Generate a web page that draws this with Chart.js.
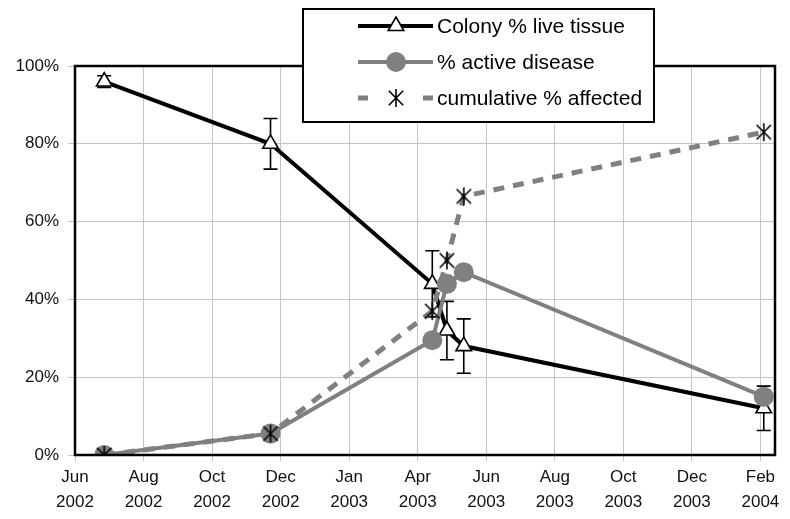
<!DOCTYPE html>
<html><head><meta charset="utf-8">
<script src="https://cdn.jsdelivr.net/npm/chart.js@4"></script>
<style>html,body{margin:0;padding:0;background:#fff}</style>
</head><body>
<canvas id="c" width="790" height="519"></canvas>
<script>
// ---- data ----
const axisStart = "2002-06-01";
const sampleDates = ["2002-06-27", "2002-11-22", "2003-04-15", "2003-04-28", "2003-05-13", "2004-02-04"];
const liveTissue = [96, 80, 44, 32, 28, 12];
const liveTissueErr = [1.5, 6.5, 8.5, 7.5, 7, 5.7];
const activeDisease = [0, 5.5, 29.5, 44, 47, 15];
const cumulativeAffected = [0, 5.5, 37, 50, 66.5, 83];
const seriesNames = ["Colony % live tissue", "% active disease", "cumulative % affected"];
const tickDays = [0, 61, 122, 183, 244, 305, 366, 427, 488, 549, 610];
const tickLabels = [["Jun","2002"],["Aug","2002"],["Oct","2002"],["Dec","2002"],["Jan","2003"],["Apr","2003"],["Jun","2003"],["Aug","2003"],["Oct","2003"],["Dec","2003"],["Feb","2004"]];
const xMaxDay = 623;
const yTicks = [0, 20, 40, 60, 80, 100];

// ---- helpers ----
const dayOf = d => Math.round((Date.parse(d) - Date.parse(axisStart)) / 86400000);
const xs = sampleDates.map(dayOf);
const pts = vals => vals.map((v, i) => ({x: xs[i], y: v}));

const GRAY = '#808080';
const FONT = '"Liberation Sans", Arial, sans-serif';

// asterisk marker (X plus vertical bar)
function makeStar(size) {
  const c = document.createElement('canvas');
  c.width = size; c.height = size;
  const g = c.getContext('2d');
  const m = size / 2, r = size / 2 - 1;
  g.strokeStyle = '#000'; g.lineWidth = 1.6; g.lineCap = 'butt';
  g.beginPath();
  g.moveTo(m, m - r); g.lineTo(m, m + r);
  const d = r * 0.8;
  g.moveTo(m - d, m - d); g.lineTo(m + d, m + d);
  g.moveTo(m + d, m - d); g.lineTo(m - d, m + d);
  g.stroke();
  return c;
}
const starImg = makeStar(20);

const errorBars = {
  id: 'errorBars',
  beforeDatasetsDraw(chart) {
    const ctx = chart.ctx, xS = chart.scales.x, yS = chart.scales.y;
    ctx.save();
    ctx.strokeStyle = '#000'; ctx.lineWidth = 1.6;
    liveTissue.forEach((v, i) => {
      const e = liveTissueErr[i];
      const px = xS.getPixelForValue(xs[i]);
      const top = yS.getPixelForValue(Math.min(100, v + e));
      const bot = yS.getPixelForValue(Math.max(0, v - e));
      ctx.beginPath();
      ctx.moveTo(px, top); ctx.lineTo(px, bot);
      ctx.moveTo(px - 7, top); ctx.lineTo(px + 7, top);
      ctx.moveTo(px - 7, bot); ctx.lineTo(px + 7, bot);
      ctx.stroke();
    });
    ctx.restore();
  }
};

const frameAndLegend = {
  id: 'frameAndLegend',
  afterDraw(chart) {
    const ctx = chart.ctx, a = chart.chartArea;
    ctx.save();
    ctx.strokeStyle = '#000'; ctx.lineWidth = 2.5;
    ctx.strokeRect(a.left, a.top, a.right - a.left, a.bottom - a.top);
    // legend box
    const bx = 303, by = 9, bw = 351, bh = 113;
    ctx.fillStyle = '#fff';
    ctx.fillRect(bx, by, bw, bh);
    ctx.lineWidth = 2;
    ctx.strokeRect(bx, by, bw, bh);
    const rows = [26, 62, 98];
    const x0 = 358, x1 = 433, mx = 396, tx = 437;
    chart.data.datasets.forEach((ds, i) => {
      const y = rows[i];
      ctx.save();
      ctx.strokeStyle = ds.borderColor; ctx.lineWidth = ds.borderWidth;
      ctx.beginPath();
      if (ds.borderDash) {
        ctx.moveTo(x0, y); ctx.lineTo(x0 + 10, y);
        ctx.moveTo(x1 - 10, y); ctx.lineTo(x1, y);
      } else {
        ctx.moveTo(x0, y); ctx.lineTo(x1, y);
      }
      ctx.stroke();
      ctx.fillStyle = ds.pointBackgroundColor;
      ctx.strokeStyle = ds.pointBorderColor;
      ctx.lineWidth = ds.pointBorderWidth;
      Chart.helpers.drawPoint(ctx, {
        pointStyle: ds.pointStyle, radius: ds.pointRadius, rotation: 0,
        borderWidth: ds.pointBorderWidth
      }, mx, y);
      ctx.restore();
      ctx.fillStyle = '#000';
      ctx.font = '21px ' + FONT;
      ctx.textBaseline = 'middle';
      ctx.textAlign = 'left';
      ctx.fillText(ds.label, tx, y + 1);
    });
    ctx.restore();
  }
};

const chart = new Chart(document.getElementById('c'), {
  type: 'line',
  data: {
    datasets: [
      {
        label: seriesNames[0], data: pts(liveTissue), order: 3,
        borderColor: '#000', borderWidth: 4,
        pointStyle: 'triangle', pointRadius: 9, pointBorderWidth: 1.6,
        pointBackgroundColor: '#fff', pointBorderColor: '#000'
      },
      {
        label: seriesNames[1], data: pts(activeDisease), order: 2,
        borderColor: GRAY, borderWidth: 4,
        pointStyle: 'circle', pointRadius: 10, pointBorderWidth: 0,
        pointBackgroundColor: GRAY, pointBorderColor: GRAY
      },
      {
        label: seriesNames[2], data: pts(cumulativeAffected), order: 1,
        borderColor: GRAY, borderWidth: 5, borderDash: [11, 9],
        pointStyle: starImg, pointRadius: 10, pointBorderWidth: 0,
        pointBackgroundColor: '#000', pointBorderColor: '#000'
      }
    ]
  },
  options: {
    responsive: false,
    animation: false,
    devicePixelRatio: 1,
    layout: {padding: {top: 66, right: 15, left: 0, bottom: 0}},
    plugins: {legend: {display: false}, tooltip: {enabled: false}},
    elements: {line: {tension: 0, borderCapStyle: 'butt'}},
    scales: {
      x: {
        type: 'linear', min: 0, max: xMaxDay,
        afterBuildTicks: s => { s.ticks = tickDays.map(v => ({value: v})); },
        afterFit: s => { s.height = 64; },
        ticks: {
          autoSkip: false, maxRotation: 0, padding: 4,
          color: '#111', font: {family: FONT, size: 17, lineHeight: 1.45},
          callback: (v) => { const i = tickDays.indexOf(v); return i >= 0 ? tickLabels[i] : ''; }
        },
        grid: {color: '#c4c4c4', lineWidth: 1, tickLength: 6, drawTicks: true},
        border: {display: false}
      },
      y: {
        min: 0, max: 100,
        afterBuildTicks: s => { s.ticks = yTicks.map(v => ({value: v})); },
        afterFit: s => { s.width = 75; },
        ticks: {
          padding: 9, color: '#111', font: {family: FONT, size: 17},
          callback: v => v + '%'
        },
        grid: {color: '#c4c4c4', lineWidth: 1, tickLength: 7},
        border: {display: false}
      }
    }
  },
  plugins: [errorBars, frameAndLegend]
});
</script>
</body></html>
